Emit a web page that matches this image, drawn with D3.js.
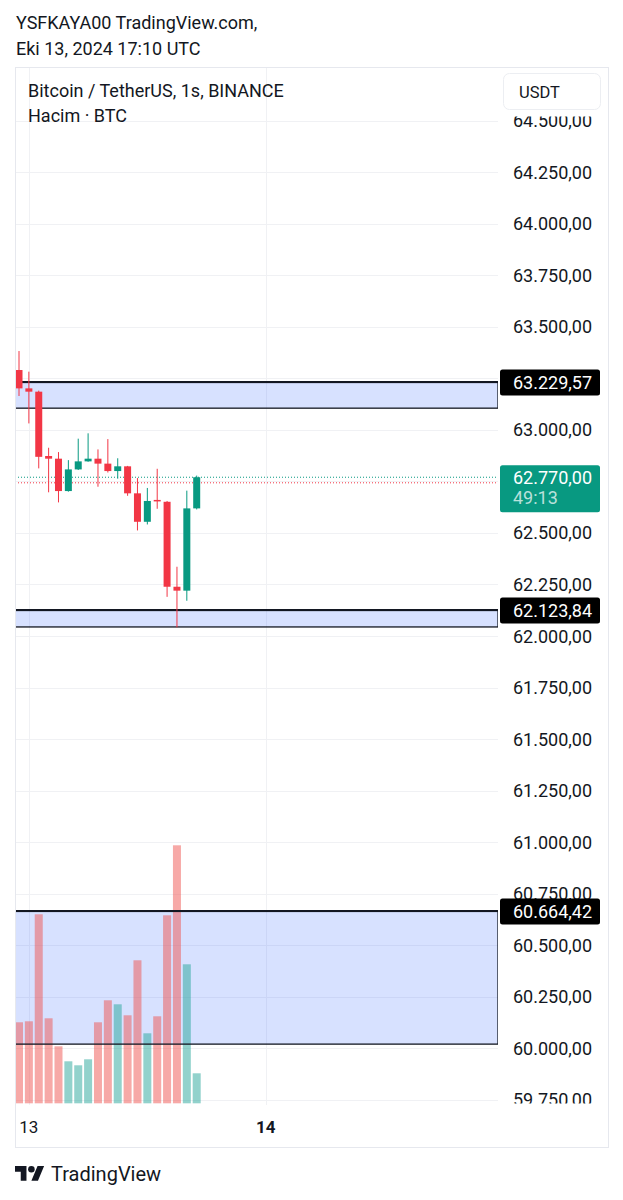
<!DOCTYPE html>
<html>
<head>
<meta charset="utf-8">
<script src="https://cdn.jsdelivr.net/npm/d3@7/dist/d3.min.js"></script>
<style>
  html, body { margin: 0; padding: 0; background: #fff; }
  svg { display: block; font-family: Roboto, "Noto Sans", sans-serif; }
</style>
</head>
<body>
<svg id="chart" width="623" height="1200"></svg>
<script>
// ---------- DATA ----------
const opens  = [63290, 63201, 63185, 62873, 62860, 62703, 62808, 62847, 62860, 62836, 62800, 62823, 62692, 62554, 62660, 62651, 62239, 62220, 62619];
const highs  = [63382, 63282, 63190, 62913, 62892, 62853, 62957, 62983, 62905, 62955, 62862, 62825, 62766, 62718, 62811, 62655, 62336, 62705, 62778];
const lows   = [63164, 63031, 62813, 62697, 62648, 62700, 62805, 62845, 62724, 62793, 62763, 62680, 62512, 62541, 62617, 62190, 62042, 62171, 62614];
const closes = [63201, 63185, 62869, 62860, 62703, 62808, 62847, 62860, 62836, 62800, 62823, 62692, 62554, 62655, 62653, 62239, 62220, 62619, 62770];
const volumes = [8.1, 8.2, 18.9, 8.5, 5.7, 4.2, 3.8, 4.4, 8.1, 10.3, 9.9, 8.8, 14.3, 7.0, 8.7, 18.8, 25.8, 13.9, 3.0];

const priceTicks = [64500, 64250, 64000, 63750, 63500, 63250, 63000, 62750, 62500, 62250, 62000, 61750, 61500, 61250, 61000, 60750, 60500, 60250, 60000, 59750];
const hiddenTicks = [63250, 62750]; // covered by labels
const timeTicks = [{ idx: 1, label: "13", bold: false }, { idx: 25, label: "14", bold: true }];

const zones = [
  { top: 63229.57, bottom: 63105 },
  { top: 62123.84, bottom: 62044 },
  { top: 60664.42, bottom: 60021 }
];
const levelLabels = ["63.229,57", "62.123,84", "60.664,42"];
const lastPrice = 62770;
const lastPriceLabel = "62.770,00";
const countdown = "49:13";
const prevRefPrice = 62743;

// ---------- LAYOUT ----------
const svg = d3.select("#chart");
const plotL = 15, plotR = 498, plotT = 67, plotB = 1105;
const frameR = 608, frameB = 1147;
const UP = "#089981", DOWN = "#f23645";

const y = d3.scaleLinear().domain([59750, 64500]).range([1100, 120.5]);
const x = d3.scaleLinear().domain([0, 18]).range([19, 196.7]);
const yv = d3.scaleLinear().domain([0, 30]).range([1103.3, 803.3]);

const fmt = v => {
  const s = v.toFixed(2).split(".");
  return s[0].replace(/\B(?=(\d{3})+(?!\d))/g, ".") + "," + s[1];
};

// header
svg.append("rect").attr("width", 623).attr("height", 1200).attr("fill", "#fff");
svg.append("text").attr("x", 16).attr("y", 29).attr("font-size", 18).attr("fill", "#131722").text("YSFKAYA00 TradingView.com,");
svg.append("text").attr("x", 16).attr("y", 55).attr("font-size", 18).attr("fill", "#131722").text("Eki 13, 2024 17:10 UTC");

// frame
svg.append("rect").attr("x", plotL + 0.5).attr("y", plotT + 0.5)
  .attr("width", frameR - plotL).attr("height", frameB - plotT)
  .attr("fill", "none").attr("stroke", "#e6e8ee");

const defs = svg.append("defs");
defs.append("clipPath").attr("id", "plotClip").append("rect")
  .attr("x", plotL + 1).attr("y", plotT + 1).attr("width", plotR - plotL - 1).attr("height", plotB - plotT - 1);
defs.append("clipPath").attr("id", "axisClip").append("rect")
  .attr("x", plotR).attr("y", 116.5).attr("width", frameR - plotR).attr("height", 1103.5 - 116.5);

const plot = svg.append("g").attr("clip-path", "url(#plotClip)");

// grid
plot.selectAll("line.hg").data(priceTicks).enter().append("line")
  .attr("x1", plotL).attr("x2", plotR)
  .attr("y1", d => Math.round(y(d)) + 0.5).attr("y2", d => Math.round(y(d)) + 0.5)
  .attr("stroke", "#f0f1f4").attr("stroke-width", 1);
plot.selectAll("line.vg").data(timeTicks).enter().append("line")
  .attr("x1", d => Math.round(x(d.idx)) + 0.5).attr("x2", d => Math.round(x(d.idx)) + 0.5)
  .attr("y1", plotT).attr("y2", plotB)
  .attr("stroke", "#f0f1f4");

// zone fills
plot.selectAll("rect.zone").data(zones).enter().append("rect")
  .attr("x", plotL).attr("width", plotR - plotL)
  .attr("y", d => y(d.top)).attr("height", d => y(d.bottom) - y(d.top))
  .attr("fill", "rgba(41,98,255,0.19)");

// volume
plot.selectAll("rect.vol").data(volumes).enter().append("rect")
  .attr("x", (d, i) => x(i) - 4).attr("width", 8)
  .attr("y", d => yv(d)).attr("height", d => yv(0) - yv(d))
  .attr("fill", (d, i) => closes[i] >= opens[i] ? "rgba(38,166,154,0.5)" : "rgba(239,83,80,0.5)");

// zone borders
plot.selectAll("rect.zoneb").data(zones).enter().append("rect")
  .attr("x", plotL).attr("width", plotR - plotL)
  .attr("y", d => y(d.top)).attr("height", d => y(d.bottom) - y(d.top))
  .attr("fill", "none").attr("stroke", "#131722").attr("stroke-width", 1.3);
plot.selectAll("line.lvl").data(zones).enter().append("line")
  .attr("x1", plotL).attr("x2", plotR)
  .attr("y1", d => y(d.top) - 0.8).attr("y2", d => y(d.top) - 0.8)
  .attr("stroke", "#131722").attr("stroke-width", 1.3);

// dotted price lines
plot.append("line").attr("x1", plotL).attr("x2", plotR)
  .attr("y1", y(lastPrice)).attr("y2", y(lastPrice))
  .attr("stroke", UP).attr("stroke-width", 1).attr("stroke-dasharray", "1,2");
plot.append("line").attr("x1", plotL).attr("x2", plotR)
  .attr("y1", y(prevRefPrice)).attr("y2", y(prevRefPrice))
  .attr("stroke", DOWN).attr("stroke-width", 1).attr("stroke-dasharray", "1,2");

// candles
const candles = plot.selectAll("g.c").data(opens).enter().append("g");
candles.append("line")
  .attr("x1", (d, i) => x(i)).attr("x2", (d, i) => x(i))
  .attr("y1", (d, i) => y(highs[i])).attr("y2", (d, i) => y(lows[i]))
  .attr("stroke", (d, i) => closes[i] >= opens[i] ? UP : DOWN).attr("stroke-width", 1);
candles.append("rect")
  .attr("x", (d, i) => x(i) - 3.5).attr("width", 7)
  .attr("y", (d, i) => y(Math.max(opens[i], closes[i])))
  .attr("height", (d, i) => Math.max(1.5, Math.abs(y(opens[i]) - y(closes[i]))))
  .attr("fill", (d, i) => closes[i] >= opens[i] ? UP : DOWN);

// legend
svg.append("text").attr("x", 28).attr("y", 97).attr("font-size", 18).attr("fill", "#131722").text("Bitcoin / TetherUS, 1s, BINANCE");
svg.append("text").attr("x", 28).attr("y", 122).attr("font-size", 18).attr("fill", "#131722").text("Hacim · BTC");

// price axis
const axisG = svg.append("g").attr("clip-path", "url(#axisClip)");
axisG.selectAll("text.pt").data(priceTicks.filter(d => !hiddenTicks.includes(d))).enter().append("text")
  .attr("x", 513).attr("y", d => y(d)).attr("dy", "0.36em")
  .attr("font-size", 18).attr("fill", "#131722").text(d => fmt(d));

// level labels
zones.forEach((z, i) => {
  const cy = y(z.top);
  axisG.append("rect").attr("x", 500).attr("y", cy - 13).attr("width", 100).attr("height", 26).attr("rx", 2.5).attr("fill", "#000");
  axisG.append("text").attr("x", 513).attr("y", cy).attr("dy", "0.36em").attr("font-size", 18).attr("fill", "#fff").text(levelLabels[i]);
});
// last price label
{
  const cy = y(lastPrice);
  axisG.append("rect").attr("x", 500).attr("y", cy - 12).attr("width", 100).attr("height", 47).attr("rx", 2.5).attr("fill", UP);
  axisG.append("text").attr("x", 513).attr("y", cy).attr("dy", "0.36em").attr("font-size", 18).attr("fill", "#fff").text(lastPriceLabel);
  axisG.append("text").attr("x", 513).attr("y", cy + 20).attr("dy", "0.36em").attr("font-size", 18).attr("fill", "rgba(255,255,255,0.72)").text(countdown);
}

// USDT box
svg.append("rect").attr("x", 503.5).attr("y", 73.5).attr("width", 97).attr("height", 36).attr("rx", 6)
  .attr("fill", "#fff").attr("stroke", "#eceef2");
svg.append("text").attr("x", 519).attr("y", 92).attr("dy", "0.36em").attr("font-size", 16.5).attr("fill", "#131722").text("USDT");

// time axis
svg.selectAll("text.tt").data(timeTicks).enter().append("text")
  .attr("x", d => x(d.idx)).attr("y", 1133).attr("text-anchor", "middle")
  .attr("font-size", 17).attr("font-weight", d => d.bold ? 700 : 400)
  .attr("fill", "#131722").text(d => d.label);

// footer logo
const logo = svg.append("g").attr("transform", "translate(15,1162.7) scale(0.82)").attr("fill", "#131722");
logo.append("path").attr("d", "M14 22H7V11H0V4h14v18zM28 22h-8l7.5-18h8L28 22z");
logo.append("circle").attr("cx", 20).attr("cy", 8).attr("r", 4);
svg.append("text").attr("x", 51).attr("y", 1181).attr("font-size", 20).attr("fill", "#131722").text("TradingView");
</script>
</body>
</html>
